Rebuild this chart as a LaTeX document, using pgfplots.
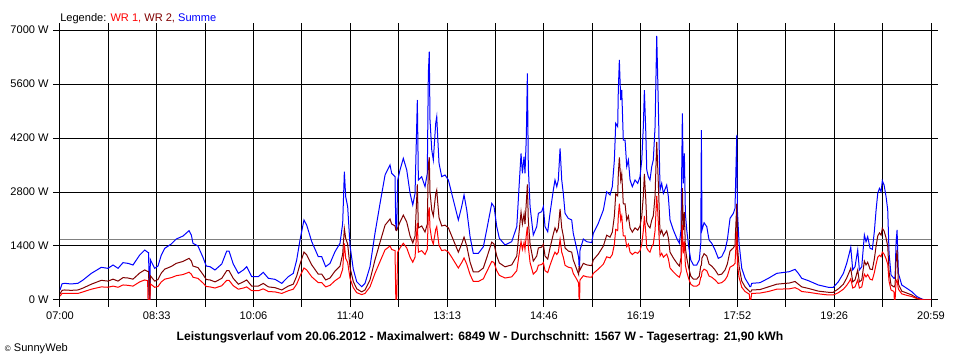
\documentclass[border=0pt]{standalone}
\usepackage{pgfplots}
\usepackage{pgfplotstable}
\pgfplotsset{compat=1.18}
\usepackage{fontspec}
\setmainfont{Liberation Sans}
\definecolor{wrone}{RGB}{255,0,0}
\definecolor{wrtwo}{RGB}{128,0,0}
\definecolor{summe}{RGB}{0,0,255}
\definecolor{avg}{RGB}{128,128,128}
\pgfplotstableread{
t S W2 W1
0 260 160 100
2 420 250 170
4.5 433 260 170
10.6 415 250 170
17.3 433 260 170
22.2 518 310 210
30.2 691 410 280
39.8 847 510 340
46.2 821 490 330
51.1 907 540 360
55.9 821 490 330
60.7 968 580 390
65.5 950 570 380
70.3 907 540 360
76.8 1167 700 470
81.6 1296 780 520
84.4 1240 740 500
84.8 1230 740 0
85.4 1230 740 0
85.8 0 0 0
86.6 0 0 0
87.0 1050 630 420
91.2 821 490 330
94.4 881 530 350
97.6 1167 700 470
100.9 1340 800 540
107.2 1452 870 580
112.0 1581 950 630
118.5 1659 1000 660
124.3 1797 1080 720
126.5 1685 1010 670
128.1 1470 880 590
132.9 1400 840 560
137.8 1100 660 440
140.9 880 530 350
144.5 864 520 340
149.3 778 470 310
155.8 933 560 370
160.6 1270 760 510
162.8 1270 760 510
166.9 933 560 370
171.8 691 410 280
176.6 778 470 310
179.8 864 520 340
184.7 605 360 240
191.0 605 360 240
195.8 717 430 290
200.7 562 340 220
207.1 536 320 210
213.6 432 260 170
219.9 605 360 240
224.7 691 410 280
228.0 1037 620 410
231.2 1556 930 620
235.0 2074 1240 830
237.6 1944 1170 780
242.5 1512 910 600
248.8 1123 670 450
252.1 1123 670 450
255.9 864 520 340
260.1 950 570 380
264.9 1253 750 500
269.7 1470 880 590
272.3 1988 1190 800
273.9 3326 1850 1470
275.2 2678 1600 1080
277.1 2419 1450 970
279.4 1400 840 560
282.5 800 480 320
285.8 475 290 190
290.6 346 210 140
293.8 432 260 170
298.6 864 520 340
303.4 1728 1040 690
308.3 2506 1500 1000
313.1 3240 1940 1300
317.9 3500 2100 1400
319.5 3284 1970 1310
322.7 3197 1920 1280
323.5 1815 1815 0
324.3 1815 1800 0
325.3 3111 1870 1240
327.5 3370 2020 1350
330.7 3673 2200 1470
334.0 3370 2020 1350
337.2 2765 1660 1110
339.8 2463 1480 980
342.0 2765 1660 1110
344.2 5185 3000 2000
345.2 3111 1870 1240
348.4 3197 1920 1280
351.6 2938 1760 1180
353.8 3284 1970 1310
354.8 5877 3500 2250
355.7 6437 3700 2400
356.4 4667 2800 1870
358.1 3889 2330 1560
359.6 3630 2180 1450
361.9 4580 2750 1830
362.9 4753 2850 1900
363.8 4234 2540 1690
365.1 3543 2130 1420
367.7 3197 1920 1280
370.9 3240 1940 1300
374.1 3111 1870 1240
377.3 2765 1660 1110
380.5 2419 1450 970
383.7 2074 1240 830
386.9 2419 1450 970
389.2 2722 1630 1090
391.8 2333 1400 930
395.0 1641 980 660
398.1 1210 730 480
403.0 1210 730 480
407.8 1382 830 550
411.0 1815 1090 730
415.9 2506 1500 1000
418.1 2419 1450 970
420.7 1901 1140 760
423.2 1599 960 640
428.7 1426 860 570
435.1 1512 910 600
440.0 1901 1140 760
442.2 2938 1760 1180
444.1 3803 2280 1520
445.4 3284 1970 1310
447.0 3716 2230 1490
447.9 3284 1970 1310
449.2 4234 2540 1690
450.2 5877 3000 1900
451.1 3457 2070 1380
452.8 2419 1450 970
455.9 1685 1010 670
459.2 1901 1140 760
460.8 2247 1350 900
464.0 2290 1370 920
465.6 2419 1450 970
467.2 1901 1140 760
469.8 1771 1060 710
472.0 2247 1350 900
475.2 2852 1710 1140
476.8 3111 1870 1240
478.5 2938 1760 1180
480.0 3111 1870 1240
481.7 3933 2360 1570
483.3 3111 1870 1240
484.8 2765 1660 1110
486.5 2247 1350 900
489.6 2117 1270 850
492.9 2074 1240 830
494.4 1728 1040 690
497.7 1340 800 540
499.6 1100 660 440
500.0 864 864 0
500.5 864 860 0
500.9 1296 780 520
504.1 1581 950 630
507.4 1512 910 600
512.2 1486 890 590
513.7 1728 1040 690
518.5 1988 1190 800
523.4 2333 1400 930
526.6 2808 1680 1120
529.8 2722 1630 1090
532.0 2938 1760 1180
534.0 3630 2180 1450
535.3 4580 2750 1830
537.2 4494 2700 1800
537.8 5444 3270 2180
538.8 6222 3700 2500
540.1 5185 3110 2070
541.1 5444 3270 2180
542.6 4148 2490 1660
544.3 4148 2490 1660
545.9 3457 2070 1380
547.5 3630 2180 1450
549.1 3111 1870 1240
551.3 2938 1760 1180
553.9 3111 1870 1240
556.5 3024 1810 1210
558.7 3197 1920 1280
560.4 3630 2180 1450
561.9 4494 2700 1800
562.9 5444 3270 2180
564.2 4407 2640 1760
565.2 3370 2020 1350
566.7 3197 1920 1280
568.3 3111 1870 1240
570.0 3457 2070 1380
571.5 3630 2180 1450
573.2 4494 2700 1800
574.8 6849 4100 2700
575.8 5704 3420 2280
576.7 4580 2750 1830
578.0 2852 1710 1140
579.6 3024 1810 1210
581.2 2765 1660 1110
584.4 2981 1790 1190
586.0 2678 1610 1070
587.6 2074 1240 830
590.8 1815 1090 730
594.1 1599 960 640
596.6 1470 880 590
598.2 1815 1090 730
599.5 4840 2900 1940
600.4 3024 1810 1210
601.4 3803 2280 1520
602.4 2247 1350 900
603.7 1815 1090 730
605.6 1382 830 550
607.6 1037 620 410
610.1 907 540 360
613.3 907 540 360
615.8 1037 620 410
617.2 1470 880 590
617.8 4407 900 600
618.4 1815 1090 730
620.4 2004 1200 800
623.0 1901 1140 760
625.2 1556 930 620
627.8 1470 880 590
631.0 1296 780 520
634.1 1080 650 430
637.4 1123 670 450
640.6 1296 780 520
642.8 1556 930 620
645.4 2117 1270 850
648.6 2247 1350 900
650.2 2376 1430 950
651.9 4278 2500 1780
652.5 2333 1400 930
654.1 1470 880 590
656.7 821 490 330
659.9 562 340 220
664.0 380 230 150
664.4 346 210 0
665.4 346 210 0
666.3 432 260 170
674.3 449 270 180
682.3 562 340 220
690.4 691 410 280
702.5 734 440 290
708.0 795 480 320
711.2 691 410 280
714.5 562 340 220
720.9 501 300 200
730.5 389 230 160
740.1 329 200 130
744.9 329 200 130
749.8 475 290 190
754.6 691 410 280
757.8 950 570 380
760.3 1210 730 480
761.7 1366 820 550
763.6 778 470 310
765.8 864 520 340
768.4 1296 780 520
770.0 778 470 310
772.3 864 520 340
774.8 1685 1010 670
776.4 1512 910 600
778.0 1641 980 660
780.3 1340 800 540
782.5 1314 790 520
784.4 1771 1060 710
786.1 2333 1400 930
787.7 2765 1660 1110
789.3 2895 1740 1160
790.9 2808 1680 1120
792.1 3093 1860 1240
793.8 2981 1790 1190
795.7 2678 1610 1070
797.3 2333 1400 930
798.6 1210 730 480
800.5 648 390 260
803.3 562 340 220
803.7 562 340 0
804.4 600 400 0
805.3 1470 1000 470
806.3 1815 1300 520
807.6 691 410 280
810.8 389 230 160
815.7 303 180 120
820.5 216 130 90
825.5 86 50 35
830.9 18 10 8
834.4 0 0 0
839 0 0 0
}\data
\begin{document}
\begin{tikzpicture}
\path[use as bounding box] (-45pt,-45pt) rectangle (675pt,225pt);
\begin{axis}[
  at={(0,0)}, anchor=south west,
  scale only axis, width=653.25pt, height=202.5pt,
  xmin=0, xmax=839, ymin=0, ymax=7000,
  axis line style={black, line width=0.75pt},
  xtick={0,46.61,93.22,139.83,186.44,233.06,279.67,326.28,372.89,419.5,466.11,512.72,559.33,605.94,652.56,699.17,745.78,792.39,839},
  xticklabels={07:00,,08:33,,10:06,,11:40,,13:13,,14:46,,16:19,,17:52,,19:26,,20:59},
  ytick={0,1400,2800,4200,5600,7000},
  yticklabels={0 W,1400 W,2800 W,4200 W,5600 W,7000 W},
  tick align=outside, major tick length=5pt,
  tick style={black, line width=0.75pt},
  grid=major, grid style={black, line width=0.75pt},
  ticklabel style={font=\fontsize{8.3}{10}\selectfont},
  /pgf/number format/assume math mode=true,
  clip=true,
]
\addplot[avg, line width=0.75pt] coordinates {(0,1567) (839,1567)};
\addplot[summe, line width=0.75pt] table[x=t, y=S] {\data};
\addplot[wrtwo, line width=0.75pt] table[x=t, y=W2] {\data};
\addplot[wrone, line width=0.75pt] table[x=t, y=W1] {\data};
\end{axis}
\node[anchor=base west, inner sep=0pt, font=\fontsize{8.3}{10}\selectfont] at (0pt,208.5pt)
  {Legende: \textcolor{wrone}{WR 1,} \textcolor{wrtwo}{WR 2,} \textcolor{summe}{Summe}};
\node[anchor=base, inner sep=0pt, font=\fontsize{9.1}{11}\bfseries] at (315pt,-30.5pt)
  {Leistungsverlauf vom 20.06.2012 - Maximalwert: 6849 W - Durchschnitt: 1567 W - Tagesertrag: 21,90 kWh};
\node[anchor=base west, inner sep=0pt, font=\fontsize{8.3}{10}\selectfont] at (-41.5pt,-39pt)
  {{\fontsize{6}{7}\selectfont\textcopyright} SunnyWeb};
\end{tikzpicture}
\end{document}
